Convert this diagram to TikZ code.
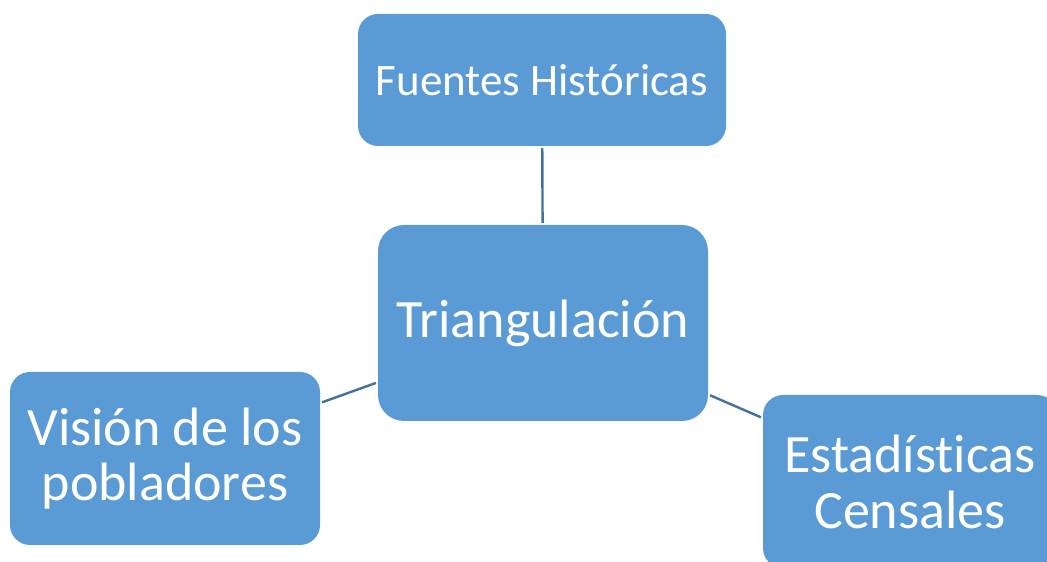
\documentclass[tikz,border=0pt]{standalone}
\usepackage{fontspec}
\setmainfont[Ligatures={NoCommon}]{Carlito}
\usepackage{xcolor}
\definecolor{boxblue}{HTML}{5B9BD5}
\definecolor{lineblue}{HTML}{41719C}
\tikzset{
  conceptbox/.style = {fill = boxblue, text = white, rounded corners = 20pt,
    align = center, inner sep = 0pt},
  link/.style = {draw = lineblue, line width = 2.4pt, shorten < = 2pt, shorten > = 2pt}
}
\begin{document}
\begin{tikzpicture}[x = 1pt, y = 1pt]
\useasboundingbox (0,0) rectangle (1047,562);
\clip (0,0) rectangle (1047,562);
% boxes
\node [conceptbox, minimum width = 368pt, minimum height = 132pt,
  font = \fontsize{45}{50}\selectfont] (fuentes) at (542,482) {Fuentes Históricas};
\node [conceptbox, minimum width = 330pt, minimum height = 196pt, rounded corners = 26pt,
  font = \fontsize{54}{60}\selectfont] (triang) at (543,239) {Triangulación};
\node [conceptbox, minimum width = 310pt, minimum height = 173pt,
  font = \fontsize{54}{55}\selectfont] (vision) at (165,103.5) {Visión de los\\pobladores};
\node [conceptbox, minimum width = 294pt, minimum height = 173pt,
  font = \fontsize{54}{56}\selectfont] (estad) at (910,80.5) {Estadísticas\\Censales};
% links
\draw [link] (triang) -- (fuentes);
\draw [link] (triang) -- (vision);
\draw [link] (triang) -- (estad);
\end{tikzpicture}
\end{document}
